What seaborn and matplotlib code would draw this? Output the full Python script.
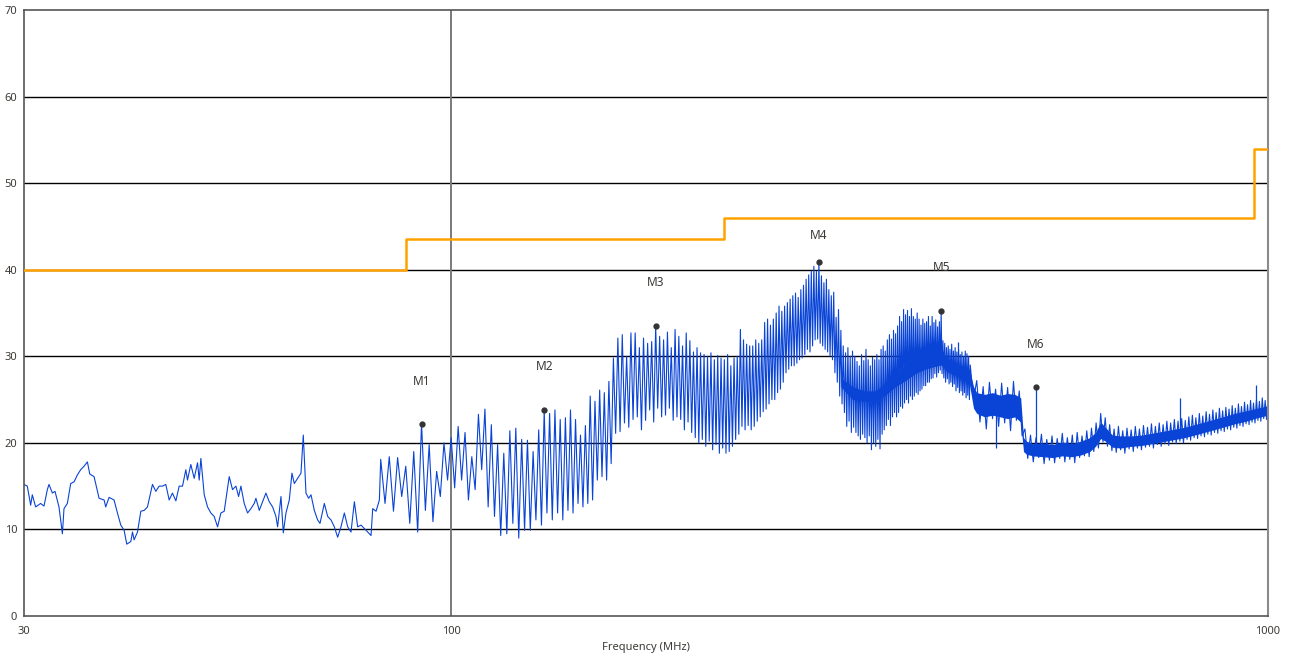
import matplotlib
matplotlib.use('Agg')
import matplotlib.pyplot as plt
import matplotlib.ticker as mticker
import numpy as np
import pandas as pd
import seaborn as sns

# Low band sweep, 30 - 82 MHz
sweep_mhz = [
    30.00, 30.28, 30.57, 30.71, 31.00, 31.44, 31.74, 32.04, 32.19, 32.50,
    32.74, 33.11, 33.43, 33.58, 33.90, 34.22, 34.55, 34.87, 35.20, 35.53,
    35.87, 36.11, 36.55, 37.07, 37.60, 37.77, 38.13, 38.67, 39.04, 39.41,
    39.78, 40.08, 40.54, 40.73, 40.92, 41.31, 41.70, 42.09, 42.49, 43.09,
    43.50, 43.91, 44.33, 44.74, 45.17, 45.59, 46.03, 46.46, 46.90, 47.34,
    47.56, 48.01, 48.47, 48.93, 49.16, 49.39, 49.86, 50.33, 50.80, 51.28,
    51.77, 52.26, 52.75, 53.50, 54.00, 54.52, 54.93, 55.29, 55.81, 56.34,
    56.87, 57.41, 57.68, 58.23, 58.78, 59.33, 59.89, 60.46, 61.03, 61.32,
    61.90, 62.31, 62.78, 63.37, 63.85, 64.27, 64.88, 65.49, 65.92, 66.42,
    66.92, 67.37, 68.00, 68.64, 69.10, 69.95, 70.61, 71.27, 71.95, 72.63,
    73.31, 74.01, 74.71, 75.41, 76.13, 76.84, 77.57, 78.30, 79.04, 79.79,
    80.17, 80.93, 81.69,
]
sweep_dbuv = [
    15.2, 15.0, 12.8, 14.0, 12.6, 13.0, 12.7, 14.6, 15.2, 14.2,
    14.4, 12.6, 9.5, 12.4, 13.0, 15.3, 15.5, 16.3, 16.9, 17.3,
    17.8, 16.4, 16.1, 13.6, 13.4, 12.6, 13.7, 13.4, 11.9, 10.5,
    9.9, 8.3, 8.6, 9.7, 8.8, 9.7, 12.1, 12.2, 12.6, 15.2,
    14.4, 15.0, 15.0, 15.2, 13.4, 14.2, 13.3, 15.0, 15.0, 16.9,
    15.7, 17.5, 15.9, 17.7, 15.7, 18.2, 14.0, 12.6, 11.9, 11.5,
    10.3, 11.9, 12.1, 16.1, 14.6, 15.0, 13.8, 15.0, 13.0, 11.9,
    12.4, 13.0, 13.6, 12.2, 13.2, 14.2, 13.2, 12.6, 11.5, 10.3,
    13.8, 9.6, 11.9, 13.4, 16.5, 15.3, 15.9, 16.5, 20.9, 14.2,
    13.6, 14.0, 12.2, 11.1, 10.7, 13.0, 11.5, 11.1, 10.3, 9.1,
    10.3, 11.9, 10.3, 9.7, 13.2, 10.3, 10.5, 10.1, 9.7, 9.3,
    12.4, 12.1, 13.4,
]

# Clock harmonics every 2 MHz from 82 to 430 MHz: spike level and the dip after it
comb_first_mhz = 82
comb_step_mhz = 2
comb_peak = [
    18.1, 18.4, 18.3, 17.3, 19.0, 22.2, 19.8, 16.7, 20.0, 20.6,
    21.9, 21.2, 18.4, 23.3, 23.9, 22.1, 19.8, 18.8, 21.4, 21.7,
    20.4, 20.3, 19.0, 21.5, 23.8, 23.4, 23.8, 22.7, 22.9, 23.8,
    22.7, 20.9, 22.0, 25.4, 24.8, 26.1, 25.8, 27.1, 29.8, 32.1,
    32.5, 30.0, 32.7, 32.7, 31.0, 32.1, 31.5, 31.7, 33.5, 32.3,
    31.9, 32.8, 31.0, 33.1, 32.3, 31.2, 32.7, 31.8, 30.5, 31.0,
    30.4, 30.2, 30.0, 30.4, 29.6, 30.1, 29.8, 29.6, 30.2, 28.9,
    29.8, 30.0, 33.1, 31.9, 31.4, 31.2, 31.2, 31.9, 31.5, 31.9,
    33.9, 34.3, 33.6, 34.3, 35.0, 35.8, 35.2, 35.8, 36.2, 36.6,
    37.0, 37.3, 36.8, 37.7, 38.2, 38.9, 39.4, 39.8, 40.4, 39.8,
    40.9, 39.3, 38.5, 38.9, 37.7, 37.0, 37.4, 34.5, 35.4, 33.0,
    31.2, 30.4, 31.0, 30.0, 30.6, 30.0, 29.4, 28.9, 30.2, 29.5,
    30.8, 29.6, 28.9, 29.9, 29.6, 30.2, 29.6, 30.8, 31.2, 30.6,
    31.9, 32.5, 32.0, 33.0, 32.6, 33.5, 34.6, 34.0, 35.4, 34.8,
    35.3, 34.6, 35.5, 34.6, 34.3, 35.0, 34.3, 33.6, 34.3, 33.8,
    34.0, 34.6, 33.5, 34.6, 33.9, 34.2, 33.4, 34.0, 35.2, 31.8,
    31.5, 31.0, 31.2, 30.8, 31.4, 30.6, 31.0, 30.5, 30.8, 30.2,
    30.5, 30.0, 30.6, 30.3, 30.0,
]
comb_floor = [
    13.0, 12.1, 13.8, 10.7, 9.7, 12.2, 10.9, 13.8, 15.7, 14.8,
    15.7, 13.4, 14.6, 16.9, 12.6, 11.5, 9.3, 9.5, 10.7, 9.0,
    9.9, 9.9, 11.1, 10.5, 11.9, 11.1, 11.9, 11.1, 12.2, 11.9,
    13.0, 12.6, 13.0, 13.4, 15.7, 16.1, 15.7, 17.6, 21.1, 21.3,
    22.3, 21.8, 22.7, 23.0, 21.5, 22.6, 23.8, 22.4, 24.0, 23.0,
    23.2, 24.0, 22.6, 23.0, 22.7, 21.5, 22.4, 21.2, 20.6, 20.0,
    20.4, 19.6, 20.2, 19.2, 19.8, 18.8, 19.4, 18.8, 19.0, 19.6,
    20.4, 21.0, 21.9, 21.5, 22.0, 21.5, 21.9, 22.5, 23.0, 23.6,
    23.9, 24.5, 25.0, 25.0, 25.8, 26.2, 27.0, 28.1, 28.5, 28.9,
    28.9, 29.2, 29.6, 29.8, 30.2, 30.8, 30.5, 31.2, 31.9, 32.0,
    31.5, 31.2, 30.8, 30.5, 30.0, 29.6, 28.1, 27.0, 25.4, 24.5,
    23.5, 21.9, 22.5, 21.2, 21.8, 21.2, 20.8, 20.4, 21.0, 20.6,
    20.0, 20.8, 19.2, 20.0, 19.6, 20.4, 19.3, 21.0, 21.5, 22.0,
    22.7, 22.0, 23.0, 23.5, 23.0, 23.5, 24.2, 24.0, 24.6, 25.0,
    24.6, 25.4, 25.0, 25.4, 25.8, 25.6, 26.0, 26.2, 26.6, 26.6,
    27.0, 27.0, 27.4, 27.5, 28.0, 27.6, 28.1, 28.4, 28.0, 27.5,
    27.0, 27.4, 26.8, 27.0, 26.5, 26.8, 26.0, 26.4, 25.8, 26.0,
    25.5, 25.8, 25.2, 25.5, 25.0,
]

# High band, 432 - 1000 MHz in 4 MHz steps (alternating upper / lower edge of the noise)
hf_first_mhz = 432
hf_step_mhz = 4
hf_dbuv = [
    29.0, 25.0, 27.2, 22.4, 26.5, 21.6, 27.0, 22.8, 26.2, 21.9,
    26.9, 22.3, 26.4, 21.4, 27.1, 22.6, 26.0, 20.8, 21.6, 18.2,
    20.9, 17.8, 20.6, 18.3, 21.0, 17.6, 20.4, 18.0, 20.8, 17.7,
    20.5, 18.2, 21.1, 17.8, 20.6, 18.1, 20.9, 17.7, 21.2, 18.3,
    20.8, 18.5, 21.4, 18.4, 21.7, 19.0, 22.3, 19.4, 23.4, 20.1,
    22.9, 19.6, 22.1, 19.1, 21.6, 18.9, 21.9, 19.2, 21.4, 18.8,
    21.7, 19.3, 21.5, 19.0, 21.9, 19.4, 21.6, 19.2, 22.0, 19.5,
    21.8, 19.6, 22.2, 19.4, 21.9, 19.8, 22.3, 19.6, 22.1, 19.9,
    22.5, 19.7, 22.3, 20.1, 22.7, 19.9, 22.5, 20.2, 22.8, 20.0,
    22.6, 20.4, 23.0, 20.3, 23.2, 20.6, 22.9, 20.5, 23.4, 20.8,
    23.1, 20.7, 23.6, 21.0, 23.3, 20.9, 23.8, 21.2, 23.5, 21.1,
    24.0, 21.4, 23.7, 21.3, 24.1, 21.6, 23.9, 21.5, 24.3, 21.8,
    24.0, 21.7, 24.5, 22.0, 24.2, 21.9, 24.7, 22.2, 24.4, 22.1,
    24.9, 22.4, 24.6, 22.3, 25.0, 22.6, 24.8, 22.5, 25.2, 22.8,
    24.9, 22.7, 25.1,
]

# Solid core of the dense noise above 300 MHz
band_mhz = [
    300, 310, 320, 330, 340, 350, 360, 370, 380, 390,
    398, 405, 415, 425, 431, 436, 440, 450, 460, 470,
    480, 490, 498, 502, 506, 515, 530, 545, 560, 575,
    590, 605, 615, 624, 632, 645, 660, 680, 700, 730,
    760, 790, 820, 850, 880, 910, 940, 970, 1000,
]
band_top = [
    27.5, 26.5, 26.0, 26.0, 26.8, 28.0, 29.0, 29.8, 30.3, 30.8,
    31.0, 29.6, 29.2, 28.8, 28.5, 26.5, 25.8, 25.6, 25.8, 25.5,
    25.7, 25.6, 25.2, 20.6, 20.2, 19.9, 20.0, 19.8, 20.1, 19.9,
    20.2, 20.6, 21.2, 22.4, 21.8, 20.9, 20.8, 20.8, 20.9, 21.2,
    21.5, 21.8, 22.2, 22.6, 23.0, 23.4, 23.7, 24.0, 24.3,
]
band_bottom = [
    26.5, 25.0, 24.8, 24.8, 25.5, 26.5, 27.2, 28.0, 28.5, 28.8,
    29.0, 28.2, 27.8, 27.3, 26.8, 24.0, 23.4, 23.0, 23.2, 23.0,
    22.8, 23.0, 22.4, 19.0, 18.7, 18.5, 18.4, 18.3, 18.5, 18.4,
    18.6, 19.0, 19.6, 20.5, 20.2, 19.5, 19.4, 19.6, 19.7, 20.0,
    20.3, 20.6, 21.0, 21.4, 21.8, 22.2, 22.5, 22.9, 23.2,
]

# Single narrow spikes sticking out of the noise
spike_mhz = [417, 465, 520, 780, 966]
spike_top = [31.6, 19.4, 26.5, 25.2, 26.7]
spike_base = [28.5, 23.5, 19.0, 21.5, 23.8]

# Limit line (steps)
limit_mhz = [30, 88, 216, 960, 1000]
limit_dbuv = [40, 43.5, 46, 54, 54]

# Peak markers
marker_names = ['M1', 'M2', 'M3', 'M4', 'M5', 'M6']
marker_mhz = [92, 130, 178, 282, 398, 520]
marker_dbuv = [22.2, 23.8, 33.5, 40.9, 35.2, 26.5]
marker_label_dbuv = [27.1, 28.8, 38.5, 44.0, 40.2, 31.4]

TRACE_COLOR = '#0a44d6'
TEXT_COLOR = '#3d3a36'


def build_trace():
    # sweep, then the comb as spike / dip pairs, then the high band
    freq = list(sweep_mhz)
    level = list(sweep_dbuv)
    for i, (peak, floor) in enumerate(zip(comb_peak, comb_floor)):
        h = comb_first_mhz + i * comb_step_mhz
        freq += [h, h + comb_step_mhz / 2]
        level += [peak, floor]
    for i, v in enumerate(hf_dbuv):
        freq.append(hf_first_mhz + i * hf_step_mhz)
        level.append(v)
    return pd.DataFrame({'freq': freq, 'level': level})


def main():
    sns.set_style('white')
    plt.rcParams['font.family'] = ['Noto Sans', 'DejaVu Sans']

    fig = plt.figure(figsize=(12.91, 6.62), dpi=100)
    ax = fig.add_axes([24 / 1291, 46 / 662, 1244 / 1291, 606 / 662])

    ax.set_xscale('log')
    ax.set_xlim(30, 1000)
    ax.set_ylim(0, 70)

    # grid: black horizontal lines, one grey vertical line at 100 MHz
    for y in range(10, 70, 10):
        ax.axhline(y, color='black', lw=1.0, zorder=1)
    ax.axvline(100, color='#7a7a7a', lw=1.4, zorder=1)

    # limit
    ax.step(limit_mhz, limit_dbuv, where='post', color='#ffa200', lw=1.8, zorder=3)

    # dense core
    ax.fill_between(band_mhz, band_bottom, band_top, color=TRACE_COLOR, lw=0, zorder=2)

    # main trace
    trace = build_trace()
    sns.lineplot(data=trace, x='freq', y='level', ax=ax, color=TRACE_COLOR, lw=0.8,
                 estimator=None, sort=False, zorder=2)
    ax.vlines(spike_mhz, spike_base, spike_top, color=TRACE_COLOR, lw=0.9, zorder=2)

    # markers and their names
    ax.plot(marker_mhz, marker_dbuv, 'o', color='#333333', ms=3.5, zorder=4)
    for name, f, v in zip(marker_names, marker_mhz, marker_label_dbuv):
        ax.text(f, v, name, ha='center', va='center', fontsize=8.5, color=TEXT_COLOR)

    # axes
    ax.xaxis.set_major_locator(mticker.FixedLocator([30, 100, 1000]))
    ax.xaxis.set_major_formatter(mticker.FixedFormatter(['30', '100', '1000']))
    ax.xaxis.set_minor_locator(mticker.NullLocator())
    ax.set_yticks(range(0, 71, 10))
    ax.tick_params(axis='both', labelsize=8, colors='#555555', labelcolor=TEXT_COLOR,
                   length=4, width=1, pad=1, direction='out')
    ax.tick_params(axis='x', pad=3)
    ax.set_xlabel('Frequency (MHz)', fontsize=8, color=TEXT_COLOR, labelpad=4)
    ax.set_ylabel('')

    for side in ['left', 'bottom', 'top']:
        ax.spines[side].set_color('#555555')
        ax.spines[side].set_linewidth(1.2)
    ax.spines['right'].set_color('#8a8a8a')
    ax.spines['right'].set_linewidth(1.5)

    fig.savefig('out.png', dpi=100)
    plt.close(fig)


if __name__ == '__main__':
    main()
